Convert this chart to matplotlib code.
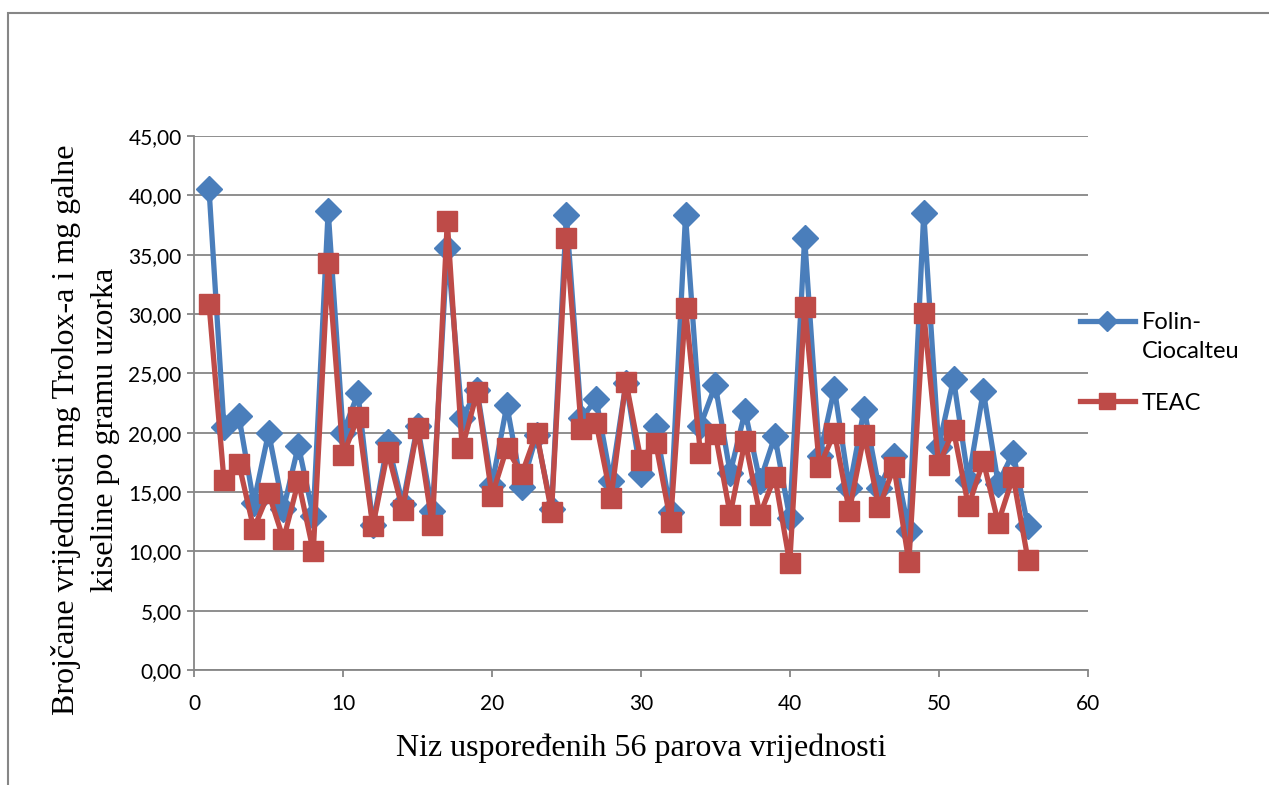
import matplotlib.pyplot as plt
import matplotlib.transforms as mtransforms
from matplotlib.legend_handler import HandlerLine2D
from matplotlib.patches import Rectangle
from matplotlib.ticker import FuncFormatter

# redni broj para
pairs = list(range(1, 57))

folin = [40.5, 20.5, 21.4, 14.1, 20.0, 13.6, 18.9, 13.0, 38.7, 20.0,
         23.3, 12.2, 19.2, 14.0, 20.6, 13.4, 35.6, 21.2, 23.6, 15.6,
         22.3, 15.4, 19.8, 13.6, 38.3, 21.2, 22.8, 15.9, 24.2, 16.5,
         20.6, 13.3, 38.3, 20.6, 24.0, 16.6, 21.8, 15.9, 19.7, 12.8,
         36.4, 18.0, 23.7, 15.3, 22.0, 15.3, 18.0, 11.7, 38.5, 18.8,
         24.5, 16.0, 23.5, 15.7, 18.3, 12.1]

teac = [30.8, 16.0, 17.4, 11.9, 14.9, 11.0, 15.9, 10.0, 34.3, 18.1,
        21.3, 12.1, 18.4, 13.5, 20.4, 12.2, 37.8, 18.7, 23.4, 14.7,
        18.7, 16.5, 20.0, 13.3, 36.4, 20.3, 20.8, 14.5, 24.3, 17.7,
        19.1, 12.5, 30.5, 18.3, 19.9, 13.1, 19.3, 13.1, 16.3, 9.0,
        30.6, 17.1, 20.0, 13.4, 19.8, 13.7, 17.1, 9.1, 30.1, 17.3,
        20.2, 13.8, 17.6, 12.4, 16.3, 9.3]

series_names = ['Folin-\nCiocalteu', 'TEAC']
BLUE = '#4A7EBB'
RED = '#BE4B48'
GRID = '#868686'


class TopLineHandler(HandlerLine2D):
    """Legend handle aligned with the first line of a two-line label."""

    def __init__(self, shift, **kw):
        super().__init__(**kw)
        self.shift = shift

    def create_artists(self, legend, orig_handle, xdescent, ydescent, width,
                       height, fontsize, trans):
        arts = super().create_artists(legend, orig_handle, xdescent, ydescent,
                                      width, height, fontsize, trans)
        for a in arts:
            a.set_transform(mtransforms.Affine2D().translate(0, self.shift) + trans)
        return arts


fig = plt.figure(figsize=(12.69, 7.85), dpi=100)
ax = fig.add_axes([0.153, 0.1465, 0.704, 0.6803])

line_f, = ax.plot(pairs, folin, color=BLUE, marker='D', markersize=13, linewidth=3.8,
                  label=series_names[0], zorder=3)
line_t, = ax.plot(pairs, teac, color=RED, marker='s', markersize=15, linewidth=3.8,
                  label=series_names[1], zorder=4)

ax.set_xlim(0, 60)
ax.set_ylim(0, 45)
ax.set_xticks(range(0, 61, 10))
ax.set_yticks(range(0, 46, 5))
ax.yaxis.set_major_formatter(FuncFormatter(lambda v, p: f'{v:.2f}'.replace('.', ',')))

ax.grid(axis='y', color=GRID, linewidth=1.3)
ax.set_axisbelow(True)
for side in ['top', 'right']:
    ax.spines[side].set_visible(False)
for side in ['left', 'bottom']:
    ax.spines[side].set_color(GRID)
    ax.spines[side].set_linewidth(1.3)
ax.tick_params(axis='x', direction='out', length=5, width=1.3, color=GRID,
               labelsize=15, pad=12)
ax.tick_params(axis='y', direction='out', length=5, width=1.3, color=GRID,
               labelsize=15, pad=4)
for lbl in ax.get_xticklabels() + ax.get_yticklabels():
    lbl.set_fontfamily('Lato')

ax.set_xlabel('Niz uspoređenih 56 parova vrijednosti', fontfamily='Liberation Serif',
              fontsize=23, labelpad=14)
ax.set_ylabel('Brojčane vrijednosti mg Trolox-a i mg galne\nkiseline po gramu uzorka',
              fontfamily='Liberation Serif', fontsize=23, linespacing=1.45)
ax.yaxis.set_label_coords(-0.083, 0.45)

leg = ax.legend(loc='center left', bbox_to_anchor=(0.968, 0.575), frameon=False,
                prop={'family': 'Lato', 'size': 17}, handlelength=2.3,
                handletextpad=0.3, labelspacing=1.3, markerscale=0.75,
                handler_map={line_f: TopLineHandler(shift=12)})
for t in leg.get_texts():
    t.set_linespacing(1.45)

# okvir grafikona
fig.patches.append(Rectangle((0.006, -0.01), 1.0, 0.994, transform=fig.transFigure,
                             fill=False, edgecolor=GRID, linewidth=1.5))

fig.savefig('out.png', dpi=100)
